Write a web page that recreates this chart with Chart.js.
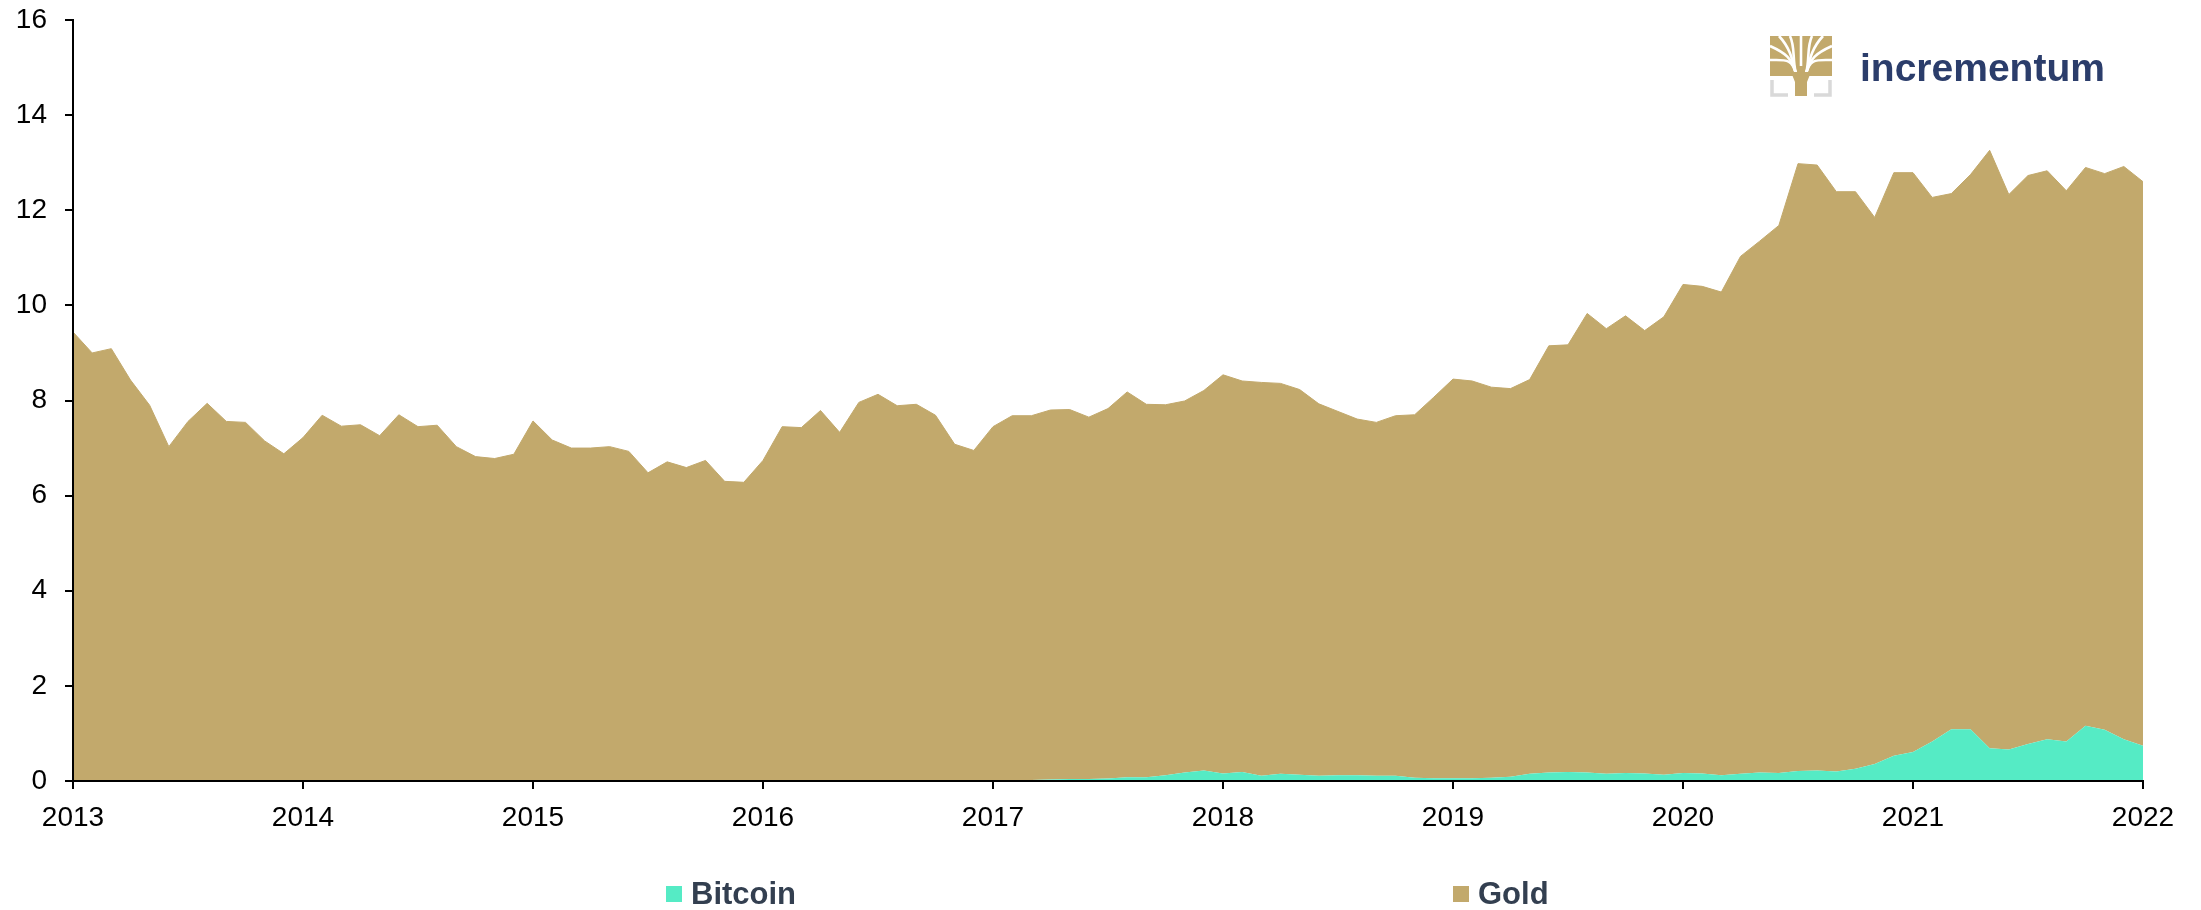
<!DOCTYPE html>
<html>
<head>
<meta charset="utf-8">
<script src="https://cdn.jsdelivr.net/npm/chart.js@4"></script>
<style>
  html, body { margin: 0; padding: 0; background: #fff; }
  #wrap { width: 2201px; height: 910px; position: relative; }
</style>
</head>
<body>
<div id="wrap"><canvas id="chart" width="2201" height="910"></canvas></div>
<script>
// monthly values, Jan 2013 .. Jan 2022 (trillion USD)
const yearLabels = ['2013', '2014', '2015', '2016', '2017', '2018', '2019', '2020', '2021', '2022'];
const months = [];
yearLabels.forEach(function (y, i) {
  const n = i < yearLabels.length - 1 ? 12 : 1;
  for (let m = 1; m <= n; m++) months.push(y + '-' + String(m).padStart(2, '0'));
});

const bitcoin = [
  0.00, 0.00, 0.00, 0.00, 0.00, 0.00, 0.00, 0.00, 0.00, 0.00, 0.01, 0.01,
  0.01, 0.01, 0.01, 0.01, 0.01, 0.01, 0.01, 0.01, 0.00, 0.00, 0.00, 0.00,
  0.00, 0.00, 0.00, 0.00, 0.00, 0.00, 0.00, 0.00, 0.00, 0.00, 0.00, 0.01,
  0.01, 0.01, 0.01, 0.01, 0.01, 0.01, 0.01, 0.01, 0.01, 0.01, 0.01, 0.01,
  0.02, 0.02, 0.02, 0.03, 0.04, 0.04, 0.05, 0.08, 0.08, 0.12, 0.18, 0.22,
  0.16, 0.19, 0.11, 0.15, 0.13, 0.11, 0.12, 0.12, 0.11, 0.11, 0.07, 0.06,
  0.06, 0.06, 0.07, 0.09, 0.15, 0.18, 0.19, 0.18, 0.15, 0.17, 0.16, 0.13,
  0.17, 0.16, 0.12, 0.15, 0.18, 0.17, 0.21, 0.22, 0.20, 0.26, 0.36, 0.53,
  0.61, 0.83, 1.09, 1.09, 0.69, 0.66, 0.78, 0.88, 0.83, 1.16, 1.08, 0.88,
  0.74
];

const gold = [
  9.44, 9.00, 9.09, 8.43, 7.90, 7.03, 7.56, 7.94, 7.56, 7.54, 7.14, 6.87,
  7.21, 7.68, 7.45, 7.48, 7.25, 7.69, 7.44, 7.47, 7.03, 6.82, 6.78, 6.87,
  7.57, 7.17, 7.00, 7.00, 7.03, 6.93, 6.48, 6.71, 6.59, 6.74, 6.30, 6.27,
  6.73, 7.44, 7.42, 7.78, 7.32, 7.95, 8.12, 7.88, 7.91, 7.68, 7.07, 6.94,
  7.43, 7.66, 7.66, 7.77, 7.77, 7.61, 7.78, 8.10, 7.84, 7.79, 7.81, 7.99,
  8.38, 8.22, 8.27, 8.21, 8.10, 7.82, 7.65, 7.49, 7.43, 7.57, 7.63, 8.01,
  8.39, 8.35, 8.21, 8.16, 8.29, 8.97, 8.98, 9.65, 9.36, 9.61, 9.31, 9.63,
  10.27, 10.24, 10.16, 10.88, 11.17, 11.51, 12.77, 12.73, 12.19, 12.13, 11.49, 12.26,
  12.18, 11.44, 11.26, 11.66, 12.57, 11.67, 11.95, 11.95, 11.58, 11.74, 11.69, 12.04,
  11.86
];

const yTicks = [0, 2, 4, 6, 8, 10, 12, 14, 16];

const btcColor = '#55EBC5';
const goldColor = '#C2A96C';

// legend drawn under the axis, two items far apart
const bottomLegend = {
  id: 'bottomLegend',
  afterDraw(chart) {
    const ctx = chart.ctx;
    const spots = [666, 1453];
    ctx.save();
    ctx.font = 'bold 31px "Liberation Sans", Arial, sans-serif';
    ctx.textBaseline = 'middle';
    ctx.textAlign = 'left';
    chart.data.datasets.forEach(function (ds, i) {
      const x = spots[i];
      ctx.fillStyle = ds.backgroundColor;
      ctx.fillRect(x, 886, 16, 16);
      ctx.fillStyle = '#333F50';
      ctx.fillText(ds.label, x + 25, 895);
    });
    ctx.restore();
  }
};

// incrementum logo, top right
const logo = {
  id: 'logo',
  afterDraw(chart) {
    const ctx = chart.ctx;
    ctx.save();
    // canopy
    ctx.fillStyle = goldColor;
    ctx.fillRect(1770, 36, 62, 40);
    ctx.strokeStyle = '#fff';
    ctx.lineWidth = 2.6;
    const tops = [[1770, 46], [1770, 60], [1779, 36], [1790, 36], [1812, 36], [1823, 36], [1832, 46], [1832, 60]];
    tops.forEach(function (p) {
      ctx.beginPath();
      ctx.moveTo(p[0] < 1801 ? 1796 : 1806, 74);
      ctx.bezierCurveTo(p[0] < 1801 ? 1792 : 1810, 58, (p[0] + 1801) / 2, (p[1] + 60) / 2, p[0], p[1]);
      ctx.stroke();
    });
    ctx.beginPath();
    ctx.moveTo(1801, 66); ctx.lineTo(1801, 36);
    ctx.stroke();
    // trunk
    ctx.fillStyle = goldColor;
    ctx.beginPath();
    ctx.moveTo(1791, 72);
    ctx.lineTo(1811, 72);
    ctx.lineTo(1807, 82);
    ctx.lineTo(1807, 96);
    ctx.lineTo(1795, 96);
    ctx.lineTo(1795, 82);
    ctx.closePath();
    ctx.fill();
    // grey brackets
    ctx.strokeStyle = '#D9D9D9';
    ctx.lineWidth = 3.5;
    ctx.beginPath();
    ctx.moveTo(1772, 80); ctx.lineTo(1772, 95); ctx.lineTo(1788, 95);
    ctx.moveTo(1830, 80); ctx.lineTo(1830, 95); ctx.lineTo(1814, 95);
    ctx.stroke();
    // name
    ctx.fillStyle = '#2B3D6B';
    ctx.font = 'bold 39px "Liberation Sans", Arial, sans-serif';
    ctx.textBaseline = 'alphabetic';
    ctx.fillText('incrementum', 1860, 81);
    ctx.restore();
  }
};

const ctx = document.getElementById('chart').getContext('2d');
new Chart(ctx, {
  type: 'line',
  data: {
    labels: months,
    datasets: [{
      label: 'Bitcoin',
      data: bitcoin,
      backgroundColor: btcColor,
      borderColor: 'rgba(0,0,0,0)',
      borderWidth: 1,
      pointRadius: 0,
      fill: 'origin',
      tension: 0
    }, {
      label: 'Gold',
      data: gold,
      backgroundColor: goldColor,
      borderColor: goldColor,
      borderWidth: 1,
      pointRadius: 0,
      fill: '-1',
      tension: 0
    }]
  },
  options: {
    responsive: false,
    animation: false,
    layout: { padding: { top: 0, right: 58, left: 0, bottom: 79 } },
    plugins: {
      legend: { display: false },
      tooltip: { enabled: false }
    },
    scales: {
      x: {
        stacked: true,
        offset: false,
        grid: { display: true, drawOnChartArea: false, drawTicks: true, tickLength: 8, color: '#000', lineWidth: 2 },
        border: { display: true, color: '#000', width: 2, z: 1 },
        ticks: {
          autoSkip: false,
          maxRotation: 0,
          padding: 12,
          color: '#000',
          font: { family: '"Liberation Sans", Arial, sans-serif', size: 28 },
          callback: function (v, i) {
            const lab = months[i];
            return lab.endsWith('-01') ? yearLabels[yearLabels.indexOf(lab.slice(0, 4))] : null;
          }
        },
        afterFit: function (scale) { scale.height = 50; }
      },
      y: {
        stacked: true,
        min: yTicks[0],
        max: yTicks[yTicks.length - 1],
        grid: { display: true, drawOnChartArea: false, drawTicks: true, tickLength: 8, color: '#000', lineWidth: 2 },
        border: { display: true, color: '#000', width: 2, z: 1 },
        ticks: {
          stepSize: 2,
          padding: 18,
          color: '#000',
          font: { family: '"Liberation Sans", Arial, sans-serif', size: 28 }
        },
        afterFit: function (scale) {
          scale.width = 73;
          scale.paddingTop = 20;
          scale.paddingBottom = 0;
        }
      }
    }
  },
  plugins: [bottomLegend, logo]
});
</script>
</body>
</html>
